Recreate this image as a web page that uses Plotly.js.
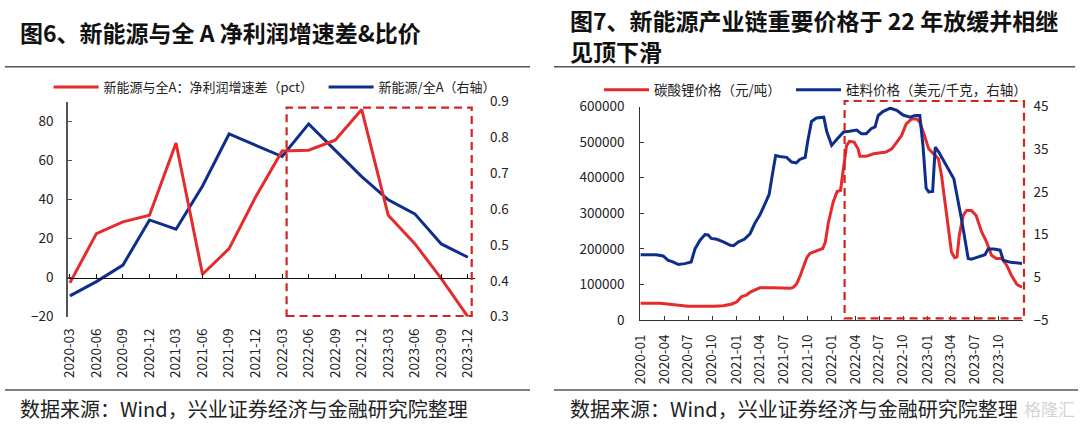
<!DOCTYPE html>
<html><head><meta charset="utf-8">
<script src="https://cdn.plot.ly/plotly-3.0.1.min.js"></script>
<style>html,body{margin:0;padding:0;background:#fff}#chart{width:1080px;height:424px}</style>
</head><body><div id="chart"></div>
<script>
// ---------- 图6 data ----------
const quarters = ['2020-03','2020-06','2020-09','2020-12','2021-03','2021-06','2021-09','2021-12',
                  '2022-03','2022-06','2022-09','2022-12','2023-03','2023-06','2023-09','2023-12'];
const profitGapPct = [-2.7, 22.5, 28.5, 31.9, 68.9, 1.7, 14.8, 41.3, 64.8, 65.2, 70.3, 86.0, 31.9, 17.4, -0.5, -20.0];
const relPrice     = [0.358, 0.398, 0.444, 0.570, 0.544, 0.665, 0.810, 0.779, 0.747, 0.838, 0.765, 0.691, 0.626, 0.587, 0.503, 0.466];
const leftTicks  = [-20, 0, 20, 40, 60, 80];

// ---------- 图7 data ----------
const liDates = ['2020-01-01','2020-03-16','2020-04-22','2020-07-01','2020-10-07','2020-11-13','2020-12-16',
  '2021-01-04','2021-01-22','2021-02-09','2021-02-26','2021-03-19','2021-04-01','2021-05-22','2021-07-25',
  '2021-08-07','2021-08-19','2021-09-01','2021-09-16','2021-09-28','2021-10-10','2021-11-04','2021-11-28',
  '2021-12-08','2021-12-19','2022-01-07','2022-01-22','2022-02-04','2022-02-16','2022-02-27','2022-03-10',
  '2022-03-28','2022-04-12','2022-04-19','2022-05-13','2022-06-10','2022-07-28','2022-08-19','2022-09-07',
  '2022-09-25','2022-10-13','2022-11-03','2022-11-22','2022-12-04','2022-12-22','2023-01-07','2023-01-25',
  '2023-02-13','2023-02-25','2023-03-10','2023-03-22','2023-04-04','2023-04-16','2023-04-25','2023-05-04',
  '2023-05-19','2023-06-01','2023-06-19','2023-07-07','2023-07-28','2023-08-16','2023-09-04','2023-09-22',
  '2023-10-13','2023-11-01','2023-11-19','2023-12-10','2023-12-22','2023-12-30'];
const liPrice = [47000,47000,44000,38500,38500,40000,45000,
  51000,66000,70000,79000,87000,90500,90500,89000,
  91500,100000,121000,154000,175000,187000,193500,201000,
  219000,272000,332000,361000,364500,434000,490000,502000,
  500000,481000,460000,460000,467000,472000,481000,500000,
  518000,551000,565000,565000,556000,518000,481000,467000,
  453000,406000,332000,257000,191000,175000,177500,238000,
  294000,308000,308000,294000,248000,219600,182000,173000,
  173000,154000,126000,100000,96000,92000];

const siDates = ['2020-01-01','2020-02-06','2020-03-01','2020-03-28','2020-04-15','2020-05-04','2020-05-25',
  '2020-06-19','2020-07-13','2020-07-28','2020-08-16','2020-09-04','2020-09-16','2020-09-28','2020-10-19',
  '2020-11-13','2020-12-10','2020-12-22','2021-01-10','2021-02-01','2021-02-23','2021-03-13','2021-04-01',
  '2021-04-22','2021-05-07','2021-05-19','2021-06-01','2021-06-16','2021-07-13','2021-08-01','2021-08-19',
  '2021-09-01','2021-09-22','2021-10-01','2021-10-16','2021-11-04','2021-11-28','2021-12-02','2021-12-13',
  '2022-01-01','2022-01-22','2022-02-15','2022-03-10','2022-04-07','2022-04-25','2022-05-13','2022-06-01',
  '2022-06-16','2022-06-28','2022-07-16','2022-08-13','2022-09-07','2022-10-01','2022-10-28','2022-11-16',
  '2022-12-04','2022-12-16','2022-12-28','2023-01-07','2023-01-22','2023-02-01','2023-02-15','2023-03-04',
  '2023-03-22','2023-04-13','2023-04-25','2023-05-13','2023-06-07','2023-06-19','2023-07-16','2023-08-10',
  '2023-08-22','2023-09-13','2023-10-07','2023-10-19','2023-11-16','2023-12-22','2023-12-30'];
const siPrice = [10.3,10.2,10.3,10.0,9.0,8.6,8.0,
  8.2,8.6,11.7,13.7,15.0,14.9,14.1,13.9,
  13.3,12.5,12.4,13.3,13.9,15.2,17.6,19.5,
  22.3,24.4,28.9,33.5,33.3,33.1,32.0,31.8,
  32.6,33.1,36.7,41.5,42.3,42.5,42.5,39.2,
  35.9,37.4,39.0,39.2,39.5,38.6,38.6,39.8,
  40.2,42.9,43.8,44.6,44.1,43.0,42.5,42.9,
  42.9,35.9,25.9,25.0,25.1,35.5,34.3,32.4,
  30.4,28.1,24.2,18.4,9.4,9.25,9.8,10.3,
  11.6,11.6,11.35,9.0,8.5,8.24,8.25];

// ---------- layout helpers ----------
const W = 1080, H = 424;
const px = x => x / W, py = y => 1 - y / H;
const L = {x0: 67.5, x1: 475, y0: 101.7, y1: 316.7};
const R = {x0: 640.4, x1: 1022.5, y0: 106.5, y1: 320};
const RED = '#E52B2B', BLUE = '#0E2E8C', BOX = '#D3241F';
const FONT = "'Noto Sans CJK SC','Noto Sans',sans-serif";
const yLeftRange = [-20, 90];
const zeroPos = py(L.y1 - (0 - yLeftRange[0]) / (yLeftRange[1] - yLeftRange[0]) * (L.y1 - L.y0));

const traces = [
  {x: quarters, y: profitGapPct, xaxis: 'x2', yaxis: 'y', type: 'scatter', mode: 'lines',
   name: '新能源与全A：净利润增速差（pct）', line: {color: RED, width: 3}, legend: 'legend'},
  {x: quarters, y: relPrice, xaxis: 'x', yaxis: 'y2', type: 'scatter', mode: 'lines',
   name: '新能源/全A（右轴）', line: {color: BLUE, width: 3}, legend: 'legend', legendwidth: 125},
  {x: liDates, y: liPrice, xaxis: 'x3', yaxis: 'y3', type: 'scatter', mode: 'lines',
   name: '碳酸锂价格（元/吨）', line: {color: RED, width: 3}, legend: 'legend2'},
  {x: siDates, y: siPrice, xaxis: 'x3', yaxis: 'y4', type: 'scatter', mode: 'lines',
   name: '硅料价格（美元/千克，右轴）', line: {color: BLUE, width: 3}, legend: 'legend2', legendwidth: 185}
];

const tickFont = {family: FONT, size: 13.5, color: '#222'};
const catRange = [-0.09, 15.27];

const layout = {
  width: W, height: H, margin: {l: 0, r: 0, t: 0, b: 0},
  paper_bgcolor: '#fff', plot_bgcolor: 'rgba(0,0,0,0)',
  font: {family: FONT, color: '#222'},
  hovermode: false,
  xaxis: {domain: [px(L.x0), px(L.x1)], anchor: 'y', type: 'category', range: catRange,
          showline: false, ticks: '', showgrid: false, zeroline: false,
          tickangle: -90, tickfont: tickFont, ticklabelstandoff: 8},
  xaxis2: {domain: [px(L.x0), px(L.x1)], anchor: 'free', position: zeroPos, overlaying: 'x',
           type: 'category', range: catRange, showline: true, linecolor: '#111', linewidth: 1,
           ticks: 'inside', ticklen: 4, tickcolor: '#111', showticklabels: false,
           showgrid: false, zeroline: false},
  yaxis: {domain: [py(L.y1), py(L.y0)], anchor: 'x', range: yLeftRange, tickvals: leftTicks,
          showline: true, linecolor: '#555', linewidth: 1.2, ticks: 'inside', ticklen: 4, tickcolor: '#555',
          showgrid: false, zeroline: false, tickfont: tickFont, ticklabelstandoff: 10},
  yaxis2: {overlaying: 'y', side: 'right', anchor: 'x', range: [0.3, 0.9], tick0: 0.3, dtick: 0.1,
           tickformat: '.1f', showline: false, ticks: '', showgrid: false, zeroline: false,
           tickfont: tickFont, ticklabelstandoff: 14},
  xaxis3: {domain: [px(R.x0), px(R.x1)], anchor: 'y3', type: 'date',
           range: ['2020-01-01', '2023-12-31 12:00'], tick0: '2020-01-01', dtick: 'M3', tickformat: '%Y-%m',
           tickangle: -90, showline: true, linecolor: '#333', linewidth: 1.2, ticks: 'inside', ticklen: 4,
           tickcolor: '#333', showgrid: false, zeroline: false, tickfont: tickFont, ticklabelstandoff: 8},
  yaxis3: {domain: [py(R.y1), py(R.y0)], anchor: 'x3', range: [0, 600000], dtick: 100000, tickformat: 'd',
           showline: true, linecolor: '#333', linewidth: 1.2, ticks: 'inside', ticklen: 4, tickcolor: '#333',
           showgrid: false, zeroline: false, tickfont: tickFont, ticklabelstandoff: 12},
  yaxis4: {overlaying: 'y3', side: 'right', anchor: 'x3', range: [-5, 45], tick0: -5, dtick: 10,
           showline: false, ticks: '', showgrid: false, zeroline: false, tickfont: tickFont,
           ticklabelstandoff: 10},
  legend: {orientation: 'h', x: px(48.6), y: py(87), xanchor: 'left', yanchor: 'middle',
           font: {family: FONT, size: 13, color: '#222'}, itemwidth: 45, entrywidth: 215,
           bgcolor: 'rgba(0,0,0,0)', traceorder: 'normal', tracegroupgap: 0},
  legend2: {orientation: 'h', x: px(599), y: py(90), xanchor: 'left', yanchor: 'middle',
           font: {family: FONT, size: 13.5, color: '#222'}, itemwidth: 45, entrywidth: 132,
           bgcolor: 'rgba(0,0,0,0)', traceorder: 'normal', tracegroupgap: 0},
  shapes: [
    {type: 'line', xref: 'paper', yref: 'paper', x0: px(5), x1: px(530), y0: py(66.7), y1: py(66.7),
     line: {color: '#555', width: 1.5}},
    {type: 'line', xref: 'paper', yref: 'paper', x0: px(554), x1: px(1075), y0: py(66.7), y1: py(66.7),
     line: {color: '#555', width: 1.5}},
    {type: 'line', xref: 'paper', yref: 'paper', x0: px(5), x1: px(530), y0: py(390), y1: py(390),
     line: {color: '#555', width: 1.5}},
    {type: 'line', xref: 'paper', yref: 'paper', x0: px(554), x1: px(1078), y0: py(390), y1: py(390),
     line: {color: '#555', width: 1.5}},
    {type: 'rect', xref: 'paper', yref: 'paper', x0: px(286.6), x1: px(471.7), y0: py(316), y1: py(107.7),
     line: {color: BOX, width: 2.2, dash: '8px,5px'}},
    {type: 'rect', xref: 'paper', yref: 'paper', x0: px(844.6), x1: px(1024), y0: py(318.3), y1: py(101),
     line: {color: BOX, width: 2.2, dash: '8px,5px'}}
  ],
  annotations: [
    {xref: 'paper', yref: 'paper', x: px(18), y: py(31.7), xanchor: 'left', yanchor: 'middle', showarrow: false,
     text: '<b>图6、新能源与全 A 净利润增速差&比价</b>', font: {family: FONT, size: 23, color: '#111'}},
    {xref: 'paper', yref: 'paper', x: px(567.7), y: py(20), xanchor: 'left', yanchor: 'middle', showarrow: false,
     text: '<b>图7、新能源产业链重要价格于 22 年放缓并相继</b>', font: {family: FONT, size: 23, color: '#111'}},
    {xref: 'paper', yref: 'paper', x: px(567.7), y: py(51), xanchor: 'left', yanchor: 'middle', showarrow: false,
     text: '<b>见顶下滑</b>', font: {family: FONT, size: 23, color: '#111'}},
    {xref: 'paper', yref: 'paper', x: px(18), y: py(408), xanchor: 'left', yanchor: 'middle', showarrow: false,
     text: '数据来源：Wind，兴业证券经济与金融研究院整理', font: {family: FONT, size: 20, color: '#222'}},
    {xref: 'paper', yref: 'paper', x: px(567.7), y: py(408), xanchor: 'left', yanchor: 'middle', showarrow: false,
     text: '数据来源：Wind，兴业证券经济与金融研究院整理', font: {family: FONT, size: 20, color: '#222'}},
    {xref: 'paper', yref: 'paper', x: px(1077), y: py(408), xanchor: 'right', yanchor: 'middle', showarrow: false,
     text: '格隆汇', font: {family: FONT, size: 17, color: '#d4d4d4'}}
  ]
};

Plotly.newPlot('chart', traces, layout, {staticPlot: true, displayModeBar: false});
</script>
</body></html>
